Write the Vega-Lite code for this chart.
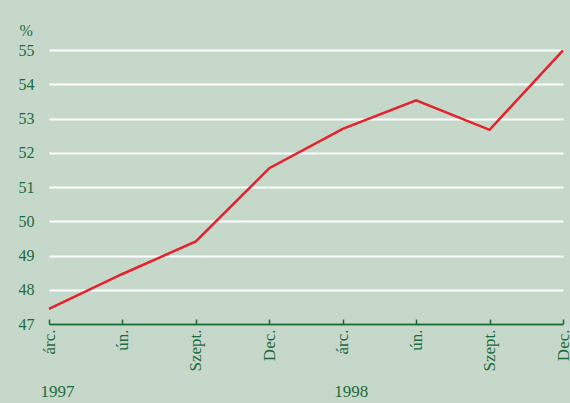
{
  "$schema": "https://vega.github.io/schema/vega-lite/v6.json",
  "width": 514,
  "height": 274,
  "autosize": {"type": "none"},
  "padding": {"left": 49, "top": 50, "right": 7, "bottom": 79},
  "background": "#C6D8C9",
  "config": {
    "view": {"stroke": null},
    "font": "Liberation Serif, Times New Roman, Times, serif",
    "axis": {"labelFont": "Liberation Serif, Times New Roman, Times, serif", "titleFont": "Liberation Serif, Times New Roman, Times, serif", "labelColor": "#1E6B3C", "titleColor": "#1E6B3C"},
    "axisY": {
      "title": "%",
      "titleAngle": 0,
      "titleFontWeight": "normal",
      "titleFontSize": 16,
      "titleAlign": "left",
      "titleBaseline": "alphabetic",
      "titleX": -30,
      "titleY": -15,
      "labelOverlap": false,
      "labelFontSize": 16,
      "labelPadding": 15,
      "ticks": false,
      "domain": false,
      "grid": true,
      "gridColor": "#FFFFFF",
      "gridWidth": 2,
      "gridOpacity": 1
    }
  },
  "data": {
    "values": [
      {"t": "árc.|1997", "v": 47.44},
      {"t": "ún.|1997", "v": 48.46},
      {"t": "Szept.|1997", "v": 49.41},
      {"t": "Dec.|1997", "v": 51.55},
      {"t": "árc.|1998", "v": 52.70},
      {"t": "ún.|1998", "v": 53.53},
      {"t": "Szept.|1998", "v": 52.67},
      {"t": "Dec.|1998", "v": 54.99}
    ]
  },
  "resolve": {"axis": {"x": "independent"}},
  "layer": [
    {
      "mark": {"type": "line", "color": "#E5222B", "strokeWidth": 2.5},
      "encoding": {
        "x": {
          "field": "t", "type": "ordinal", "sort": null,
          "scale": {"type": "point", "padding": 0},
          "axis": {
            "title": null,
            "labelExpr": "split(datum.label, '|')[0]",
            "labelAngle": -90,
            "labelAlign": "right",
            "labelBaseline": "middle",
            "labelFontSize": 17,
            "labelPadding": 10,
            "tickSize": -5,
            "tickColor": "#1A6B35",
            "domainColor": "#1A6B35",
            "domainWidth": 2,
            "tickWidth": 1.5,
            "grid": false
          }
        },
        "y": {
          "field": "v", "type": "quantitative",
          "scale": {"domain": [47, 55], "nice": false, "zero": false},
          "axis": {"title": "%", "values": [47, 48, 49, 50, 51, 52, 53, 54, 55]}
        }
      }
    },
    {
      "mark": {"type": "line", "strokeOpacity": 0},
      "encoding": {
        "x": {
          "field": "t", "type": "ordinal", "sort": null,
          "axis": {
            "orient": "bottom",
            "title": null,
            "labelExpr": "indexof(datum.label, 'árc.') == 0 ? split(datum.label, '|')[1] : ''",
            "labelAngle": 0,
            "labelAlign": "center",
            "labelBaseline": "top",
            "labelOffset": 8,
            "labelFontSize": 17,
            "labelPadding": 59,
            "ticks": false,
            "domain": false,
            "grid": false
          }
        },
        "y": {
          "field": "v", "type": "quantitative",
          "axis": {"title": "%", "values": [47, 48, 49, 50, 51, 52, 53, 54, 55]}
        }
      }
    }
  ]
}
